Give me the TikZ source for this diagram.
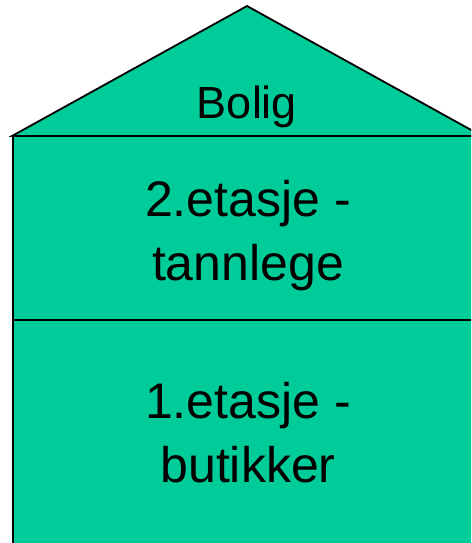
\documentclass[tikz,border=0pt]{standalone}
\usepackage{fontspec}
\setmainfont{Liberation Sans}
\usepackage{tikz}
\definecolor{husgroenn}{RGB}{0,204,153}
\tikzset{
  etasje/.style={align=center,font=\fontsize{50}{64}\selectfont},
  tak/.style={font=\fontsize{45}{50}\selectfont}
}
\begin{document}
\begin{tikzpicture}[x=1pt,y=1pt]
\useasboundingbox (0,0) rectangle (471,543);
\clip (0,0) rectangle (471,543);
\pgfsetlinewidth{1.8pt}
\draw[fill=husgroenn,line join=miter] (12,407) -- (247,537) -- (482,407) -- cycle;
\draw[fill=husgroenn] (13,407) rectangle (481,-10);
\draw (13,223) -- (481,223);
\node[tak,anchor=base] (bolig) at (247,424) {Bolig};
\node[etasje] (andre) at (248,307) {2.etasje -\\tannlege};
\node[etasje] (forste) at (248,110) {1.etasje -\\butikker};
\end{tikzpicture}
\end{document}
